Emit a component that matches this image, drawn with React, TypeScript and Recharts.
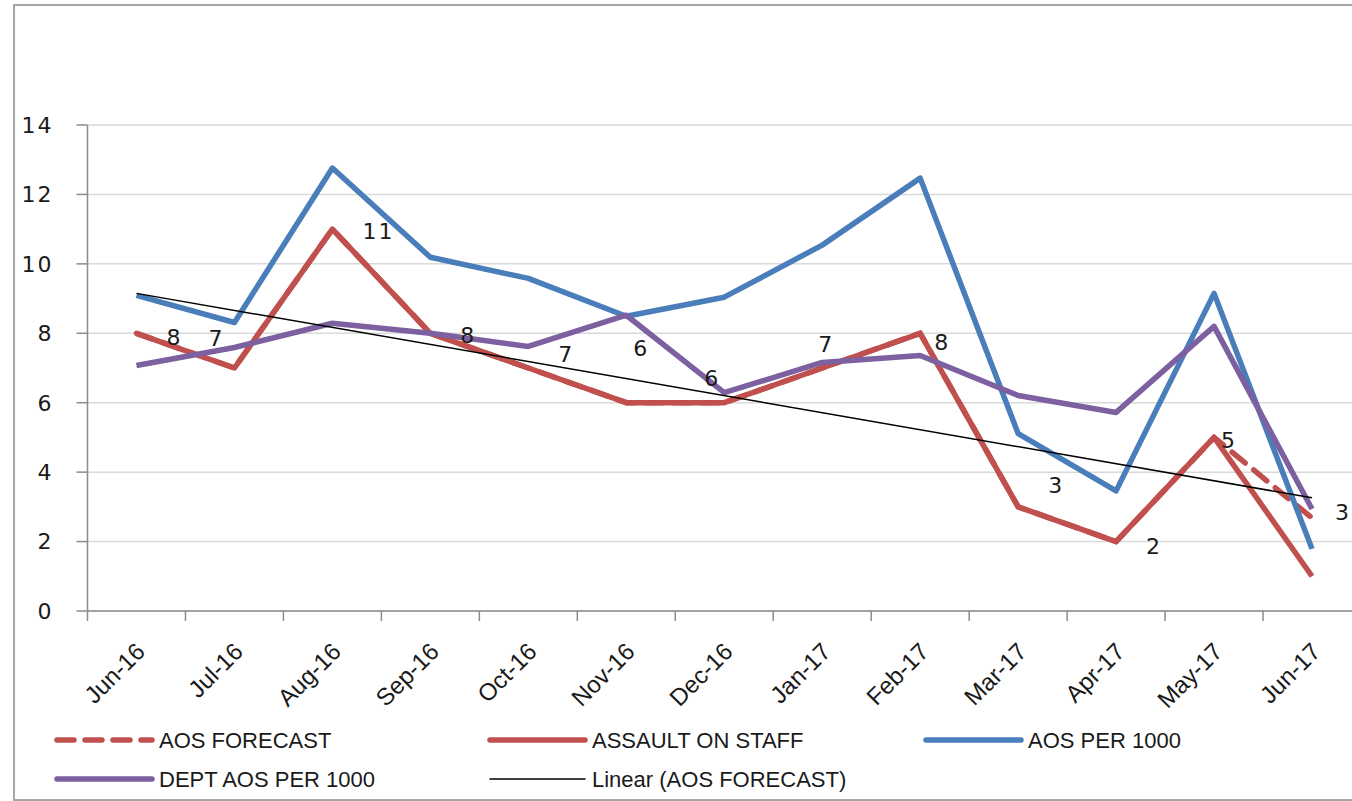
import React from 'react'
import { LineChart, Line, XAxis, YAxis, CartesianGrid } from 'recharts'

const months = ['Jun-16', 'Jul-16', 'Aug-16', 'Sep-16', 'Oct-16', 'Nov-16', 'Dec-16', 'Jan-17', 'Feb-17', 'Mar-17', 'Apr-17', 'May-17', 'Jun-17']
const aosForecast = [8, 7, 11, 8, 7, 6, 6, 7, 8, 3, 2, 5, 2.68]
const assaultOnStaff = [8, 7, 11, 8, 7, 6, 6, 7, 8, 3, 2, 5, 1]
const aosPer1000 = [9.09, 8.31, 12.76, 10.19, 9.58, 8.49, 9.04, 10.54, 12.47, 5.11, 3.46, 9.15, 1.79]
const deptAosPer1000 = [7.07, 7.59, 8.29, 8.0, 7.62, 8.52, 6.29, 7.16, 7.36, 6.21, 5.72, 8.2, 2.94]
const linearForecast = [9.15, null, null, null, null, null, null, null, null, null, null, null, 3.26]
const yTicks = [0, 2, 4, 6, 8, 10, 12, 14]

// hand-placed data label nudges (dx, dy from the point), like the moved labels in the original
const labelNudge = [
  [38, 4], [-18, -30], [46, 2], [38, 2], [38, -14], [15, -54], [-12, -24],
  [4, -24], [22, 9], [38, -21], [38, 5], [15, 3], [31, -5],
]

const data = months.map((m, i) => ({
  month: m,
  forecast: aosForecast[i],
  assault: assaultOnStaff[i],
  aos: aosPer1000[i],
  dept: deptAosPer1000[i],
  trend: linearForecast[i],
}))

const RED = '#C0504D'
const BLUE = '#4A7EBB'
const PURPLE = '#7D60A0'
const AXIS = '#8c8c8c'

const CHART_W = 1380
const CHART_H = 801
const MARGIN_TOP = 125
const MARGIN_RIGHT = 19
const Y_W = 87.5
const X_H = 190
const AXIS_Y = CHART_H - X_H
const BAND = (CHART_W - MARGIN_RIGHT - Y_W) / months.length

function MonthTick(props: any) {
  const { x, payload, index } = props
  const half = BAND / 2
  const ax = x + 10
  const ay = AXIS_Y + 42
  return (
    <g>
      <line x1={x - half} x2={x - half} y1={AXIS_Y} y2={AXIS_Y + 10} stroke={AXIS} strokeWidth={1.5} />
      {index === months.length - 1 && (
        <line x1={x + half} x2={x + half} y1={AXIS_Y} y2={AXIS_Y + 10} stroke={AXIS} strokeWidth={1.5} />
      )}
      <text
        x={ax}
        y={ay}
        transform={`rotate(-45 ${ax} ${ay})`}
        textAnchor="end"
        fill="#1a1a1a"
        style={{ fontFamily: 'Liberation Sans', fontSize: 24 }}
      >
        {payload.value}
      </text>
    </g>
  )
}

function ForecastLabel(props: any) {
  const { x, y, value, index } = props
  if (value == null) return null
  const [dx, dy] = labelNudge[index] || [38, 3]
  return (
    <text
      x={x + dx}
      y={y + dy}
      textAnchor="middle"
      dominantBaseline="central"
      fill="#1a1a1a"
      style={{ fontFamily: 'DejaVu Sans', fontSize: 22, letterSpacing: 2 }}
    >
      {Math.round(value)}
    </text>
  )
}

const legendItems = [
  { name: 'AOS FORECAST', color: RED, width: 5.5, dash: '17 11', x: 57, y: 740 },
  { name: 'ASSAULT ON STAFF', color: RED, width: 5.5, dash: undefined, x: 490, y: 740 },
  { name: 'AOS PER 1000', color: BLUE, width: 5.5, dash: undefined, x: 926, y: 740 },
  { name: 'DEPT AOS PER 1000', color: PURPLE, width: 5.5, dash: undefined, x: 57, y: 779 },
  { name: 'Linear (AOS FORECAST)', color: '#000', width: 1.5, dash: undefined, x: 490, y: 779 },
]

function ChartLegend() {
  return (
    <svg width={1352} height={801} style={{ position: 'absolute', left: 0, top: 0, pointerEvents: 'none' }}>
      {legendItems.map((item) => (
        <g key={item.name}>
          <line
            x1={item.x}
            x2={item.x + 95}
            y1={item.y}
            y2={item.y}
            stroke={item.color}
            strokeWidth={item.width}
            strokeDasharray={item.dash}
            strokeLinecap="round"
          />
          <text
            x={item.x + 102}
            y={item.y}
            dominantBaseline="central"
            fill="#1a1a1a"
            style={{ fontFamily: 'Liberation Sans', fontSize: 22 }}
          >
            {item.name}
          </text>
        </g>
      ))}
    </svg>
  )
}

export default function App() {
  return (
    <div style={{ position: 'absolute', left: 0, top: 0, width: 1352, height: 801, overflow: 'hidden', background: '#fff' }}>
      <div
        style={{
          position: 'absolute',
          left: 13,
          top: 4,
          width: 1400,
          height: 797,
          boxSizing: 'border-box',
          border: '2px solid #a6a6a6',
        }}
      />
      <div style={{ position: 'absolute', left: 0, top: 0 }}>
        <LineChart width={CHART_W} height={CHART_H} data={data} margin={{ top: MARGIN_TOP, right: MARGIN_RIGHT, bottom: 0, left: 0 }}>
          <CartesianGrid vertical={false} stroke="#d9d9d9" strokeWidth={1.5} />
          <XAxis
            dataKey="month"
            height={X_H}
            padding={{ left: BAND / 2, right: BAND / 2 }}
            axisLine={{ stroke: AXIS, strokeWidth: 1.5 }}
            tickLine={false}
            interval={0}
            tick={<MonthTick />}
          />
          <YAxis
            width={Y_W}
            domain={[0, 14]}
            ticks={yTicks}
            interval={0}
            axisLine={{ stroke: AXIS, strokeWidth: 1.5 }}
            tickLine={{ stroke: AXIS, strokeWidth: 1.5 }}
            tickSize={11}
            tickMargin={23}
            tick={{ fill: '#1a1a1a', fontSize: 22, fontFamily: 'DejaVu Sans', letterSpacing: 2 }}
          />
          <Line
            dataKey="forecast"
            name="AOS FORECAST"
            stroke={RED}
            strokeWidth={5.5}
            strokeDasharray="17 11"
            strokeLinecap="round"
            dot={false}
            activeDot={false}
            isAnimationActive={false}
          />
          <Line
            dataKey="assault"
            name="ASSAULT ON STAFF"
            stroke={RED}
            strokeWidth={5.5}
            strokeLinejoin="round"
            dot={false}
            activeDot={false}
            isAnimationActive={false}
          />
          <Line
            dataKey="aos"
            name="AOS PER 1000"
            stroke={BLUE}
            strokeWidth={5.5}
            strokeLinejoin="round"
            dot={false}
            activeDot={false}
            isAnimationActive={false}
          />
          <Line
            dataKey="dept"
            name="DEPT AOS PER 1000"
            stroke={PURPLE}
            strokeWidth={5.5}
            strokeLinejoin="round"
            dot={false}
            activeDot={false}
            isAnimationActive={false}
          />
          <Line
            dataKey="trend"
            name="Linear (AOS FORECAST)"
            stroke="#000"
            strokeWidth={1.5}
            connectNulls
            dot={false}
            activeDot={false}
            isAnimationActive={false}
          />
          <Line
            dataKey="forecast"
            stroke="none"
            legendType="none"
            dot={false}
            activeDot={false}
            label={<ForecastLabel />}
            isAnimationActive={false}
          />
        </LineChart>
      </div>
      <ChartLegend />
    </div>
  )
}
